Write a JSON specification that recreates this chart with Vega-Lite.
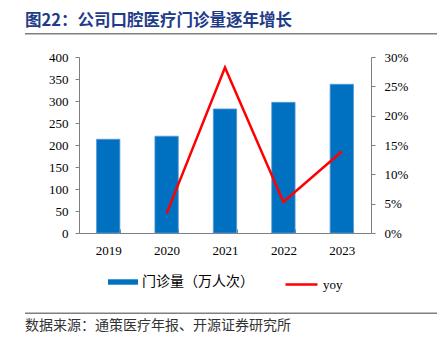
{
  "$schema": "https://vega.github.io/schema/vega-lite/v6.json",
  "padding": {"left": 25, "right": 8, "top": 12, "bottom": 0},
  "config": {"view": {"stroke": null}, "font": "Liberation Serif",
    "legend": {"layout": {"bottom": {"anchor": "middle", "margin": 22}}}},
  "spacing": 8,
  "vconcat": [
    {
      "title": {"text": "图22：公司口腔医疗门诊量逐年增长", "anchor": "start", "font": "Noto Sans CJK SC", "fontSize": 16.5, "fontWeight": "bold", "color": "#1F3C88", "offset": 4},
      "width": 412,
      "height": 10,
      "data": {"values": [{"a": 0.85, "b": 1}]},
      "mark": {"type": "rect", "color": "#7F7F7F"},
      "encoding": {
        "y": {"field": "a", "type": "quantitative", "axis": null, "scale": {"domain": [0, 1]}},
        "y2": {"field": "b"}
      }
    },
    {
      "spacing": 2,
      "hconcat": [
        {
          "width": 2,
          "height": 176,
          "data": {"values": []},
          "mark": {"type": "rule"},
          "encoding": {}
        },
        {
          "width": 292,
          "height": 176,
          "data": {"values": [
            {"year": "2019", "visits": 213, "yoy": null},
            {"year": "2020", "visits": 220, "yoy": 0.033},
            {"year": "2021", "visits": 282, "yoy": 0.282},
            {"year": "2022", "visits": 297, "yoy": 0.053},
            {"year": "2023", "visits": 338, "yoy": 0.139}
          ]},
          "encoding": {
            "x": {"field": "year", "type": "ordinal", "scale": {"paddingInner": 0.6, "paddingOuter": 0.3},
              "axis": {"title": null, "labelAngle": 0, "tickBand": "extent", "tickSize": -4, "tickColor": "#7F7F7F", "domainColor": "#7F7F7F", "labelFont": "Liberation Serif", "labelFontSize": 13, "labelColor": "#000", "labelPadding": 15, "grid": false}}
          },
          "layer": [
            {
              "mark": {"type": "bar", "stroke": "#5B9BD5", "strokeWidth": 0.8},
              "encoding": {
                "y": {"field": "visits", "type": "quantitative", "scale": {"domain": [0, 400]},
                  "axis": {"title": null, "values": [0, 50, 100, 150, 200, 250, 300, 350, 400], "grid": false, "tickSize": 4, "tickColor": "#7F7F7F", "domainColor": "#7F7F7F", "labelFont": "Liberation Serif", "labelFontSize": 13, "labelColor": "#000", "labelPadding": 7, "minExtent": 50}},
                "fill": {"datum": "门诊量（万人次）", "scale": {"range": ["#0070C0"]},
                  "legend": {"orient": "bottom", "direction": "horizontal", "title": null, "symbolType": "M-1,-0.18H1V0.18H-1Z", "symbolSize": 900, "symbolStrokeWidth": 0, "labelFont": "Noto Sans CJK SC", "labelFontSize": 14, "labelColor": "#000", "offset": 6, "padding": 4}}
              }
            },
            {
              "transform": [{"filter": "datum.yoy != null"}],
              "mark": {"type": "line", "strokeWidth": 2.5},
              "encoding": {
                "y": {"field": "yoy", "type": "quantitative", "scale": {"domain": [0, 0.3]},
                  "axis": {"orient": "right", "title": null, "format": ".0%", "values": [0, 0.05, 0.1, 0.15, 0.2, 0.25, 0.3], "grid": false, "tickSize": 4, "tickColor": "#7F7F7F", "domainColor": "#7F7F7F", "labelFont": "Liberation Serif", "labelFontSize": 13, "labelColor": "#000", "labelPadding": 9}},
                "stroke": {"datum": "yoy", "scale": {"range": ["#FF0000"]},
                  "legend": {"orient": "bottom", "direction": "horizontal", "title": null, "symbolType": "stroke", "symbolSize": 1024, "symbolStrokeWidth": 2.5, "labelFont": "Liberation Serif", "labelFontSize": 13, "labelColor": "#000", "offset": 6, "padding": 4}}
              }
            }
          ],
          "resolve": {"scale": {"y": "independent", "fill": "independent", "stroke": "independent"}}
        }
      ]
    },
    {
      "title": {"text": "数据来源：通策医疗年报、开源证券研究所", "orient": "bottom", "anchor": "start", "font": "Noto Sans CJK SC", "fontSize": 14, "fontWeight": "normal", "color": "#333333", "offset": 5},
      "width": 412,
      "height": 10,
      "data": {"values": [{"a": 0, "b": 0.15}]},
      "mark": {"type": "rect", "color": "#7F7F7F"},
      "encoding": {
        "y": {"field": "a", "type": "quantitative", "axis": null, "scale": {"domain": [0, 1]}},
        "y2": {"field": "b"}
      }
    }
  ]
}
